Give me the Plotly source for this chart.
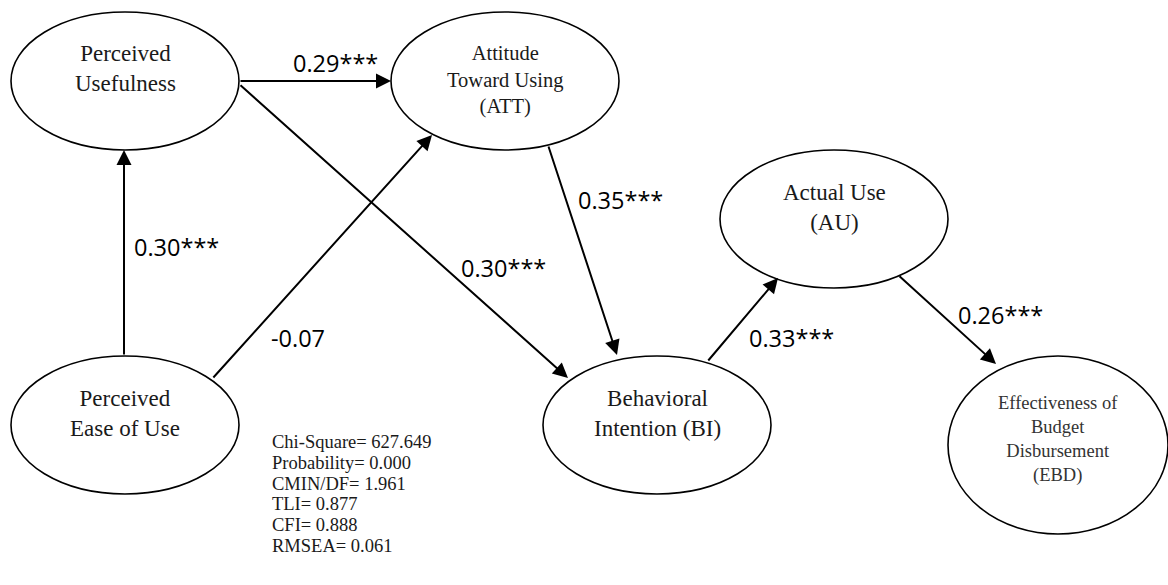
import plotly.graph_objects as go

# ---------------- data ----------------
construct_ids = ["PU", "ATT", "PEOU", "BI", "AU", "EBD"]
construct_labels = [
    "Perceived<br>Usefulness",
    "Attitude<br>Toward Using<br>(ATT)",
    "Perceived<br>Ease of Use",
    "Behavioral<br>Intention (BI)",
    "Actual Use<br>(AU)",
    "Effectiveness of<br>Budget<br>Disbursement<br>(EBD)",
]
path_from = ["PU", "PEOU", "PEOU", "PU", "ATT", "BI", "AU"]
path_to = ["ATT", "PU", "ATT", "BI", "BI", "AU", "EBD"]
path_coef = [0.29, 0.30, -0.07, 0.30, 0.35, 0.33, 0.26]
path_sig = ["***", "***", "", "***", "***", "***", "***"]
fit_names = ["Chi-Square", "Probability", "CMIN/DF", "TLI", "CFI", "RMSEA"]
fit_values = ["627.649", "0.000", "1.961", "0.877", "0.888", "0.061"]

# ---------------- layout (positions / styles) ----------------
W, H = 1168, 585
node_geom = {  # cx, cy, rx, ry, label_y, font_size
    "PU": (125, 81, 114, 69, 68, 23),
    "ATT": (505, 81, 114, 69, 79.5, 20.5),
    "PEOU": (125, 425, 114, 69, 413.5, 23),
    "BI": (657, 425, 114, 69, 413.5, 23),
    "AU": (834, 219, 114, 69, 207.5, 23),
    "EBD": (1058, 445, 110, 89, 439.5, 18.5),
}
edge_geom = {  # (tail_x, tail_y, tip_x, tip_y, label_x, label_y)
    ("PU", "ATT"): (239, 81, 391, 81, 335, 63),
    ("PEOU", "PU"): (124, 356, 124, 150, 176, 247),
    ("PEOU", "ATT"): (212, 379, 432, 135, 298, 338),
    ("PU", "BI"): (239, 84, 568, 378, 503, 268),
    ("ATT", "BI"): (548, 145, 617, 355, 620, 200),
    ("BI", "AU"): (707, 362, 778, 278, 791, 338),
    ("AU", "EBD"): (898, 275, 996, 364, 1000, 315),
}
serif = "Liberation Serif, Times New Roman, serif"
sans = "Open Sans, Liberation Sans, sans-serif"

fig = go.Figure()
fig.add_trace(go.Scatter(x=[0, W], y=[0, H], mode="markers",
                         marker=dict(opacity=0), hoverinfo="skip", showlegend=False))

shapes = []
annotations = []
for cid, lab in zip(construct_ids, construct_labels):
    cx, cy, rx, ry, ly, fs = node_geom[cid]
    shapes.append(dict(type="circle", xref="x", yref="y",
                       x0=cx - rx, x1=cx + rx, y0=cy - ry, y1=cy + ry,
                       line=dict(color="black", width=1.6), fillcolor="rgba(0,0,0,0)"))
    annotations.append(dict(x=cx, y=ly, xref="x", yref="y", text=lab, showarrow=False,
                            xanchor="center", yanchor="middle", align="center",
                            font=dict(family=serif, size=fs,
                                      color="#333333" if cid == "EBD" else "#1a1a1a")))

for f, t, c, s in zip(path_from, path_to, path_coef, path_sig):
    tx, ty, hx, hy, lx, lyy = edge_geom[(f, t)]
    annotations.append(dict(x=hx, y=hy, ax=tx, ay=ty, xref="x", yref="y",
                            axref="x", ayref="y", text="", showarrow=True,
                            arrowhead=2, arrowsize=1.5, arrowwidth=2,
                            arrowcolor="black", standoff=0, startstandoff=0))
    annotations.append(dict(x=lx, y=lyy, xref="x", yref="y",
                            text=f"{c:.2f}{s}", showarrow=False,
                            xanchor="center", yanchor="middle",
                            font=dict(family=sans, size=23.5, color="black")))

for i, (n, v) in enumerate(zip(fit_names, fit_values)):
    annotations.append(dict(x=271, y=442 + i * 20.8, xref="x", yref="y",
                            text=f"{n}= {v}", showarrow=False,
                            xanchor="left", yanchor="middle", borderpad=0,
                            font=dict(family=serif, size=18.5, color="#1a1a1a")))

fig.update_layout(
    width=W, height=H, margin=dict(l=0, r=0, t=0, b=0),
    paper_bgcolor="white", plot_bgcolor="white",
    xaxis=dict(range=[0, W], visible=False, fixedrange=True),
    yaxis=dict(range=[H, 0], visible=False, fixedrange=True),
    shapes=shapes, annotations=annotations, showlegend=False,
)
fig.write_html("out.html", config={"displayModeBar": False, "staticPlot": True},
               post_script="document.body.style.margin='0';")
